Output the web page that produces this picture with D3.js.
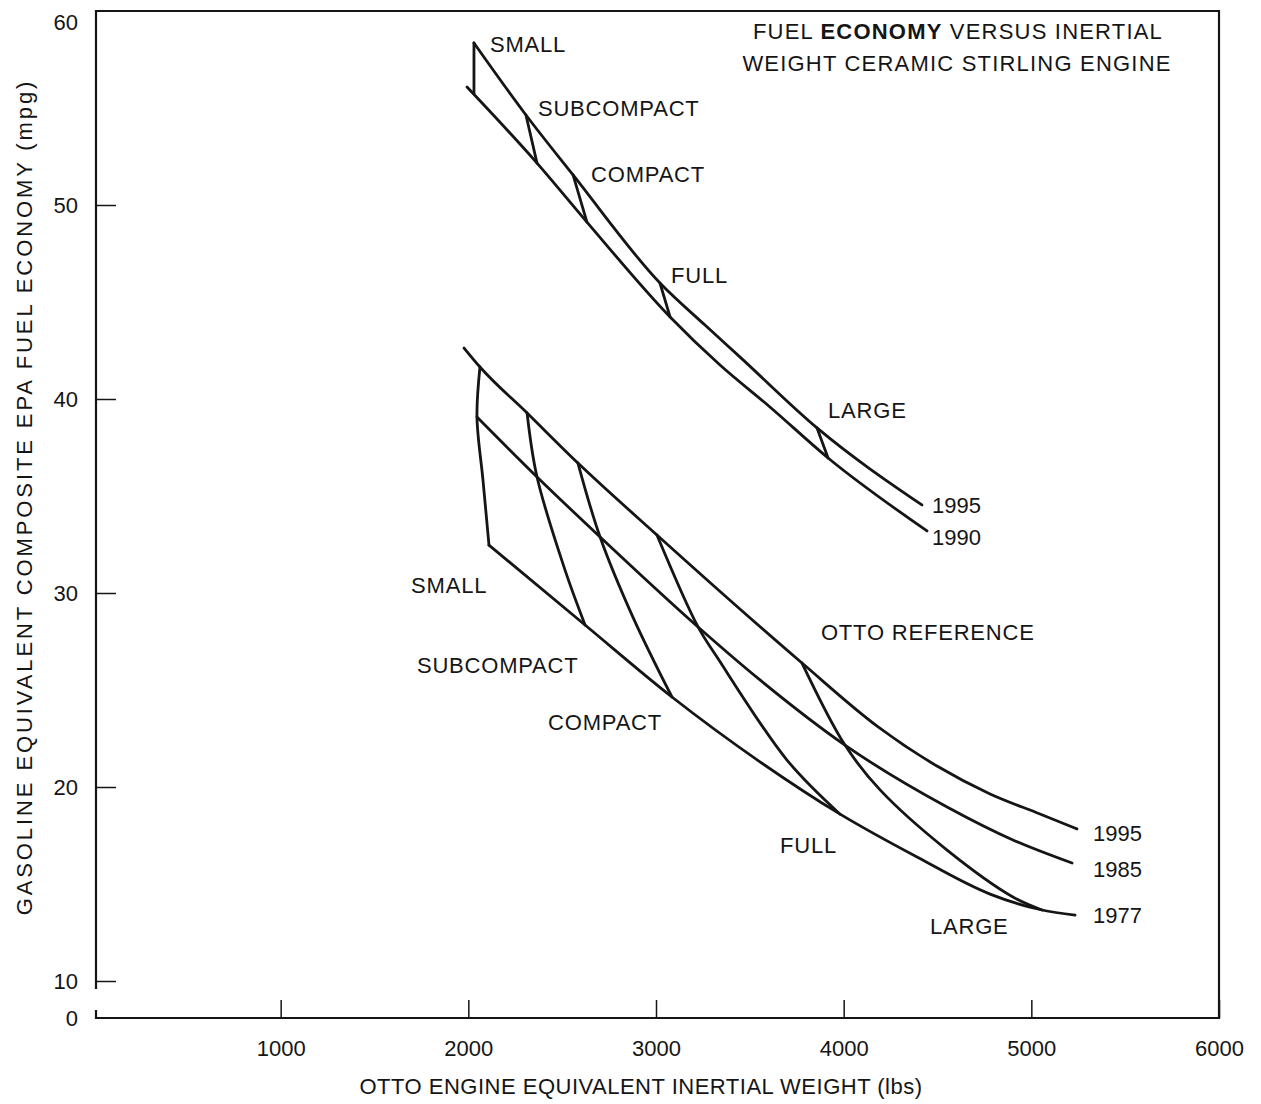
<!DOCTYPE html>
<html>
<head>
<meta charset="utf-8">
<script src="https://cdn.jsdelivr.net/npm/d3@7"></script>
<style>
  body { margin: 0; background: #fff; }
  svg text { font-family: "Liberation Sans", Arial, sans-serif; fill: #151515; }
</style>
</head>
<body>
<div id="chart"></div>
<script>
// ceramic Stirling engine curves (lbs, mpg)
const stirling1995 = [[2030, 58.35], [2307, 54.64], [2558, 51.55], [3021, 45.98], [3261, 43.81], [3448, 42.16], [3858, 38.51], [4417, 34.54]];
const stirling1990 = [[1993, 56.08], [2366, 52.16], [2632, 49.12], [3075, 44.23], [3341, 41.75], [3607, 39.59], [3917, 36.96], [4444, 33.20]];
const stirlingClasses = [
    [[2030, 58.35], [2030, 55.75]],
    [[2307, 54.64], [2366, 52.16]],
    [[2558, 51.55], [2632, 49.12]],
    [[3021, 45.98], [3075, 44.23]],
    [[3858, 38.51], [3917, 36.96]]
];

// Otto reference curves
const otto1995 = [[1977, 42.63], [2062, 41.65], [2313, 39.28], [2584, 36.70], [3005, 32.99], [3778, 26.39], [4178, 23.14], [4497, 21.08], [4780, 19.64], [5046, 18.61], [5243, 17.84]];
const otto1985 = [[2046, 39.07], [2366, 35.98], [2702, 32.89], [3224, 28.25], [3554, 25.52], [4007, 22.16], [4551, 18.97], [4902, 17.27], [5217, 16.08]];
const otto1977 = [[2110, 32.47], [2622, 28.35], [3085, 24.64], [3554, 21.30], [3981, 18.60], [4391, 16.39], [4780, 14.48], [5057, 13.66], [5233, 13.40]];
const ottoClasses = [
    [[2062, 41.65], [2046, 39.07], [2078, 35.82], [2110, 32.47]],
    [[2313, 39.28], [2366, 35.98], [2515, 31.19], [2622, 28.35]],
    [[2584, 36.70], [2702, 32.89], [2877, 28.76], [3085, 24.64]],
    [[3005, 32.99], [3224, 28.25], [3325, 26.70], [3698, 21.39], [3981, 18.60]],
    [[3778, 26.39], [4007, 22.16], [4194, 19.85], [4551, 16.75], [4902, 14.33], [5057, 13.66]]
];

// annotations (text, lbs, mpg)
const stirlingLabels = [
    ['SMALL', 2115, 57.89], ['SUBCOMPACT', 2371, 54.59], ['COMPACT', 2654, 51.19],
    ['FULL', 3080, 45.98], ['LARGE', 3917, 39.02], ['1995', 4471, 34.12], ['1990', 4471, 32.47]
];
const ottoLabels = [
    ['SMALL', 1695, 30.0], ['SUBCOMPACT', 1726, 25.88], ['COMPACT', 2425, 22.94],
    ['OTTO REFERENCE', 3879, 27.58], ['FULL', 3661, 16.60], ['LARGE', 4460, 12.42],
    ['1995', 5329, 17.22], ['1985', 5329, 15.36], ['1977', 5329, 12.99]
];

const xTicks = [1000, 2000, 3000, 4000, 5000, 6000];
const yTicks = [10, 20, 30, 40, 50];

const width = 1261, height = 1104;
const x = d3.scaleLinear().domain([0, 6000]).range([93, 1219]);
const y = d3.scaleLinear().domain([10, 60]).range([981, 11]);
const axisX = 96, zeroY = 1018;

const svg = d3.select('#chart').append('svg')
    .attr('width', width)
    .attr('height', height);

// frame with broken y axis between 10 and 0
svg.append('path')
    .attr('d', `M${axisX},${y(10) + 8} L${axisX},${y(60)} L${x(6000)},${y(60)} L${x(6000)},${zeroY} L${axisX},${zeroY} L${axisX},${zeroY - 8}`)
    .attr('fill', 'none')
    .attr('stroke', '#151515')
    .attr('stroke-width', 2.2);

const xAxis = svg.append('g')
    .attr('transform', `translate(0,${zeroY})`)
    .call(d3.axisBottom(x).tickValues(xTicks).tickSize(-18).tickPadding(22).tickFormat(d3.format('d')));
xAxis.select('.domain').remove();

const yAxis = svg.append('g')
    .attr('transform', `translate(${axisX},0)`)
    .call(d3.axisLeft(y).tickValues(yTicks).tickSize(-20).tickPadding(18));
yAxis.select('.domain').remove();

svg.selectAll('.tick line').attr('stroke', '#151515').attr('stroke-width', 1.5);
svg.selectAll('.tick text').style('font-size', '22px').attr('fill', '#151515');

svg.append('text').attr('x', 78).attr('y', 30).attr('text-anchor', 'end')
    .style('font-size', '22px').text('60');
svg.append('text').attr('x', 78).attr('y', 1026).attr('text-anchor', 'end')
    .style('font-size', '22px').text('0');

// axis titles
svg.append('text')
    .attr('transform', 'translate(641,1094)')
    .attr('text-anchor', 'middle')
    .style('font-size', '22px')
    .style('letter-spacing', '0.5px')
    .text('OTTO ENGINE EQUIVALENT INERTIAL WEIGHT (lbs)');

svg.append('text')
    .attr('transform', 'translate(32,497) rotate(-90)')
    .attr('text-anchor', 'middle')
    .style('font-size', '22px')
    .style('letter-spacing', '2.9px')
    .text('GASOLINE EQUIVALENT COMPOSITE EPA FUEL ECONOMY (mpg)');

// chart title
const title = svg.append('text')
    .attr('text-anchor', 'middle')
    .style('font-size', '22px')
    .style('letter-spacing', '1.2px');
const t1 = title.append('tspan').attr('x', 958).attr('y', 39);
t1.append('tspan').text('FUEL ');
t1.append('tspan').style('font-weight', 'bold').text('ECONOMY');
t1.append('tspan').text(' VERSUS INERTIAL');
title.append('tspan').attr('x', 957).attr('y', 71).text('WEIGHT CERAMIC STIRLING ENGINE');

// curves: year lines are smooth in x, class connectors follow their points
const yearLine = d3.line()
    .x(d => x(d[0]))
    .y(d => y(d[1]))
    .curve(d3.curveMonotoneX);

const classLine = d3.line()
    .x(d => x(d[0]))
    .y(d => y(d[1]))
    .curve(d3.curveCatmullRom.alpha(0.5));

const curves = svg.append('g')
    .attr('fill', 'none')
    .attr('stroke', '#151515')
    .attr('stroke-width', 2.8)
    .attr('stroke-linejoin', 'round')
    .attr('stroke-linecap', 'round');

curves.selectAll('path.year')
    .data([stirling1995, stirling1990, otto1995, otto1985, otto1977])
    .join('path')
    .attr('class', 'year')
    .attr('d', yearLine);

curves.selectAll('path.class')
    .data(stirlingClasses.concat(ottoClasses))
    .join('path')
    .attr('class', 'class')
    .attr('d', classLine);

svg.append('g')
    .selectAll('text')
    .data(stirlingLabels.concat(ottoLabels))
    .join('text')
    .attr('x', d => x(d[1]))
    .attr('y', d => y(d[2]))
    .style('font-size', '22px')
    .style('letter-spacing', d => /^\d+$/.test(d[0]) ? '0px' : '0.8px')
    .text(d => d[0]);
</script>
</body>
</html>
